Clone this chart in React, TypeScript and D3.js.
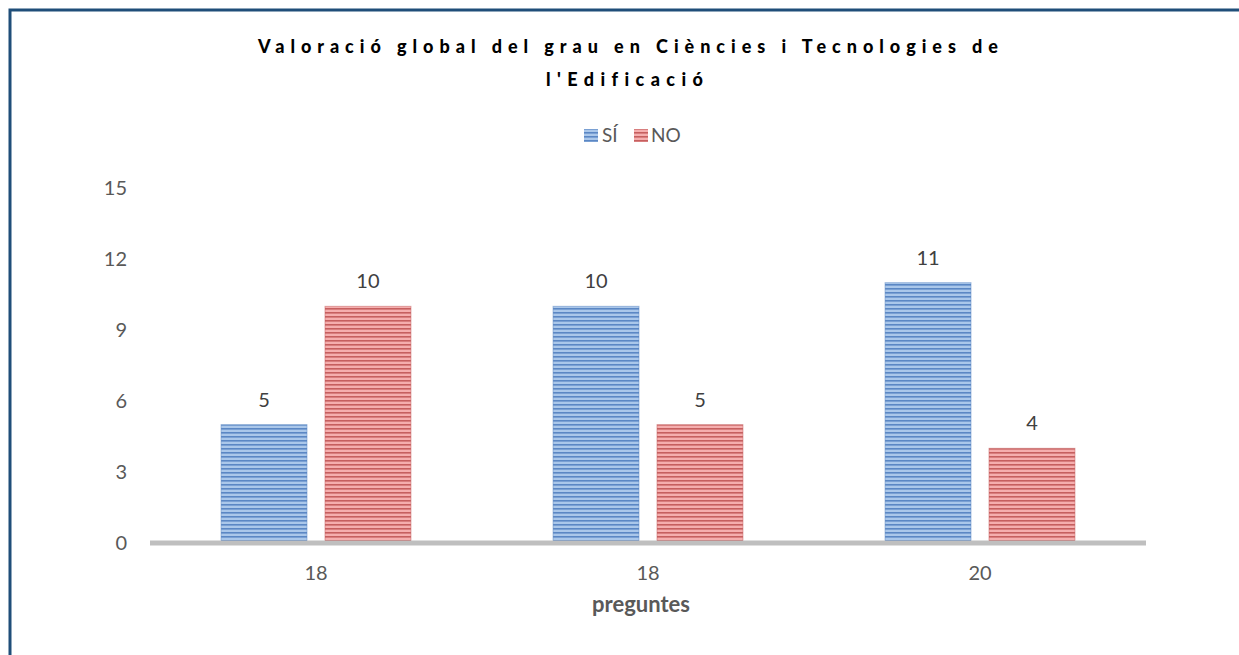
import React, { useEffect } from 'react';
import * as d3 from 'd3';

// values
const categories = ['18', '18', '20'];
const seriesNames = ['SÍ', 'NO'];
const siValues = [5, 10, 11];
const noValues = [10, 5, 4];
const yTicks = [0, 3, 6, 9, 12, 15];

const titleLines = ['Valoració global del grau en Ciències i Tecnologies de', "l'Edificació"];
const xTitle = 'preguntes';

const palette: Record<string, { light: string; dark: string; id: string }> = {
  'SÍ': { light: '#aac7ea', dark: '#5b87c4', id: 'stripe-si' },
  'NO': { light: '#f5aeae', dark: '#c65f5f', id: 'stripe-no' },
};

const W = 1239;
const H = 655;
const margin = { left: 150, right: 93, top: 188, bottom: 112 };
const font = 'Lato, Carlito, Calibri, sans-serif';

export default function App() {
  useEffect(() => {
    document.body.style.margin = '0';
  }, []);

  const x = d3.scaleBand<string>()
    .domain(categories.map((_, i) => String(i)))
    .range([margin.left, W - margin.right]);

  const inner = d3.scaleBand<string>()
    .domain(seriesNames)
    .range([x.bandwidth() * 0.214, x.bandwidth() * 0.786])
    .paddingInner(0.173);

  const y = d3.scaleLinear().domain([0, 15]).range([H - margin.bottom, margin.top]);

  const rows = categories.map((c, i) => ({ key: String(i), label: c, values: [siValues[i], noValues[i]] }));

  return (
    <svg width={W} height={H} style={{ display: 'block', background: '#fff' }}>
      <defs>
        {seriesNames.map(s => (
          <pattern key={s} id={palette[s].id} patternUnits="userSpaceOnUse" width={8} height={4}>
            <rect width={8} height={4} fill={palette[s].light} />
            <rect y={0} width={8} height={1.6} fill={palette[s].dark} />
          </pattern>
        ))}
      </defs>

      {/* outer frame (runs off the page at right/bottom) */}
      <rect x={10} y={10} width={W + 20} height={H + 20} fill="none" stroke="#1f4e79" strokeWidth={3} />

      {/* title */}
      <g fontFamily={font} fontWeight={900} fontSize={18} fill="#000" style={{ fontVariantLigatures: 'none' }}>
        <text x={258} y={53} textLength={740} lengthAdjust="spacing">{titleLines[0]}</text>
        <text x={546} y={86} textLength={157} lengthAdjust="spacing">{titleLines[1]}</text>
      </g>

      {/* legend */}
      <g fontFamily={font} fontSize={19} fill="#595959">
        <rect x={584} y={129} width={14} height={13} fill={`url(#${palette['SÍ'].id})`} />
        <text x={602} y={142}>{seriesNames[0]}</text>
        <rect x={634} y={129} width={14} height={13} fill={`url(#${palette['NO'].id})`} />
        <text x={651} y={142}>{seriesNames[1]}</text>
      </g>

      {/* y tick labels */}
      <g fontFamily={font} fontSize={20} fill="#595959" textAnchor="end">
        {yTicks.map(t => (
          <text key={t} x={127} y={y(t)} dy="0.35em">{t}</text>
        ))}
      </g>

      {/* bars */}
      {rows.map(r => (
        <g key={r.key} transform={`translate(${x(r.key)},0)`}>
          {seriesNames.map((s, j) => (
            <g key={s}>
              <rect
                x={inner(s)}
                y={y(r.values[j])}
                width={inner.bandwidth()}
                height={y(0) - y(r.values[j])}
                fill={`url(#${palette[s].id})`}
                stroke={palette[s].dark}
                strokeOpacity={0.5}
                strokeWidth={1}
              />
              <text
                x={(inner(s) ?? 0) + inner.bandwidth() / 2}
                y={y(r.values[j]) - 18}
                textAnchor="middle"
                fontFamily={font}
                fontSize={20}
                fill="#404040"
              >{r.values[j]}</text>
            </g>
          ))}
        </g>
      ))}

      {/* x axis */}
      <line x1={margin.left} x2={W - margin.right} y1={y(0)} y2={y(0)} stroke="#bfbfbf" strokeWidth={5} />
      <g fontFamily={font} fontSize={20} fill="#595959" textAnchor="middle">
        {rows.map(r => (
          <text key={r.key} x={(x(r.key) ?? 0) + x.bandwidth() / 2} y={580}>{r.label}</text>
        ))}
      </g>
      <text x={641} y={612} textAnchor="middle" fontFamily={font} fontWeight="bold" fontSize={22} fill="#595959">{xTitle}</text>
    </svg>
  );
}
